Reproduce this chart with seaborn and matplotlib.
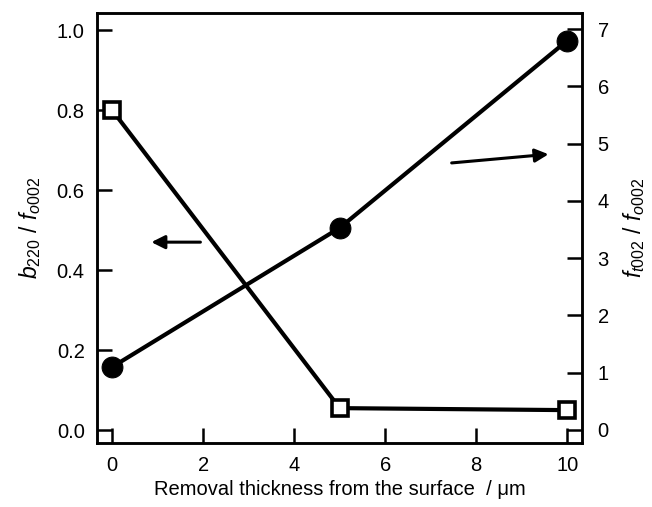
import matplotlib
matplotlib.use("Agg")
import matplotlib.pyplot as plt
import seaborn as sns
import pandas as pd

thickness = [0, 5, 10]
b220_ratio = [0.80, 0.055, 0.05]
ft002_ratio = [1.1, 3.53, 6.8]
x_ticks = [0, 2, 4, 6, 8, 10]
left_ticks = [0.0, 0.2, 0.4, 0.6, 0.8, 1.0]
right_ticks = [0, 1, 2, 3, 4, 5, 6, 7]

sns.set_theme(style="ticks")
plt.rcParams["font.family"] = ["Liberation Sans", "DejaVu Sans"]
plt.rcParams["mathtext.fontset"] = "custom"
plt.rcParams["mathtext.rm"] = "Liberation Sans"
plt.rcParams["mathtext.it"] = "Liberation Sans:italic"
plt.rcParams["mathtext.bf"] = "Liberation Sans:bold"
plt.rcParams["text.color"] = "black"
plt.rcParams["axes.labelcolor"] = "black"

df = pd.DataFrame({"x": thickness, "b": b220_ratio, "f": ft002_ratio})

fig = plt.figure(figsize=(6.52, 5.07), dpi=100)
ax = fig.add_axes([0.149, 0.126, 0.744, 0.848])
ax2 = ax.twinx()

sns.lineplot(data=df, x="x", y="b", ax=ax, color="black", linewidth=3,
             marker="s", markersize=11.5, markerfacecolor="white",
             markeredgecolor="black", markeredgewidth=2.6)
sns.lineplot(data=df, x="x", y="f", ax=ax2, color="black", linewidth=3,
             marker="o", markersize=15, markerfacecolor="black",
             markeredgecolor="black")

ax.set_xlim(-0.33, 10.33)
ax.set_ylim(-0.0325, 1.0425)
ax2.set_ylim(-0.23, 7.28)
ax.set_xticks(x_ticks)
ax.set_yticks(left_ticks)
ax.set_yticklabels([f"{v:.1f}" for v in left_ticks])
ax2.set_yticks(right_ticks)

for a in (ax, ax2):
    for s in a.spines.values():
        s.set_visible(True)
        s.set_linewidth(1.8)
        s.set_color("black")
ax.tick_params(axis="both", direction="in", length=11, width=1.8,
               labelsize=14.5, colors="black", pad=9)
ax.tick_params(axis="y", left=True, right=False)
ax2.tick_params(axis="y", direction="in", length=11, width=1.8,
                labelsize=14.5, colors="black", pad=11)

ax.set_xlabel("Removal thickness from the surface  / \u03bcm", fontsize=14.5, labelpad=4)
ax.set_ylabel(r"$\mathit{b}_{220}\ /\ \mathit{f}_{o002}$", fontsize=16.5, labelpad=10)
ax2.set_ylabel(r"$\mathit{f}_{t002}\ /\ \mathit{f}_{o002}$", fontsize=16.5, labelpad=9)

ax.annotate("", xy=(0.8, 0.47), xytext=(2.0, 0.47),
            arrowprops=dict(arrowstyle="-|>", color="black", lw=2.2,
                            mutation_scale=20))
ax2.annotate("", xy=(9.65, 4.82), xytext=(7.4, 4.66),
             arrowprops=dict(arrowstyle="-|>", color="black", lw=2.2,
                             mutation_scale=20))

fig.savefig("out.png", dpi=100)
